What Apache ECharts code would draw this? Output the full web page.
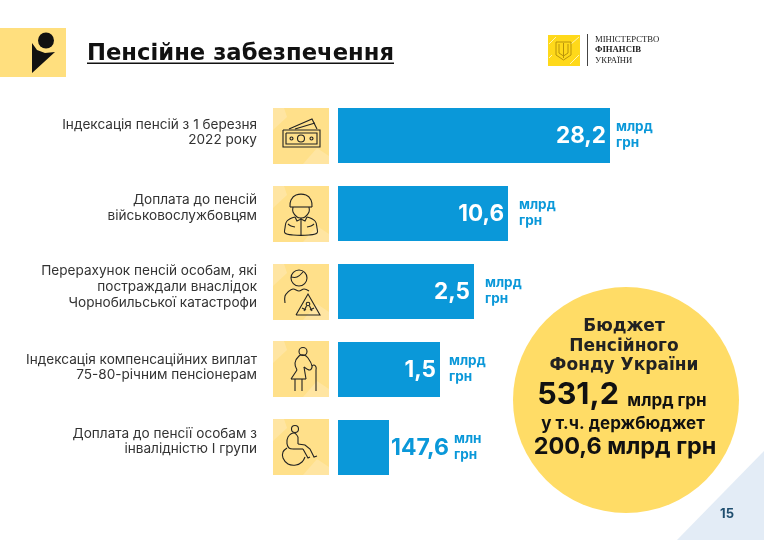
<!DOCTYPE html>
<html><head><meta charset="utf-8">
<style>html,body{margin:0;padding:0;background:#fff}#c{width:764px;height:540px}</style>
<script src="https://cdn.jsdelivr.net/npm/echarts@6/dist/echarts.min.js"></script>
</head><body><div id="c"></div>
<script>
const categories = ['Індексація пенсій з 1 березня\n2022 року','Доплата до пенсій\nвійськовослужбовцям','Перерахунок пенсій особам, які\nпостраждали внаслідок\nЧорнобильської катастрофи','Індексація компенсаційних виплат\n75-80-річним пенсіонерам','Доплата до пенсії особам з\nінвалідністю І групи'];
// The bars in the source are schematic: their lengths are not proportional to the printed amounts.
const barLengths = [16,10,8,6,3];
const amounts = ['28,2','10,6','2,5','1,5','147,6'];
const units = ['млрд\nгрн','млрд\nгрн','млрд\nгрн','млрд\nгрн','млн\nгрн'];
const title = 'Пенсійне забезпечення';
const fundTitle = ['Бюджет','Пенсійного','Фонду України'];
const fundTotal = '531,2';
const fundUnit = 'млрд грн';
const fundSubtitle = 'у т.ч. держбюджет';
const fundState = '200,6 млрд грн';
const pageNumber = '15';

const F = '"DejaVu Sans"';
const F2 = 'Inter';
const BLUE = '#0A98D9', INK = '#222';

// icon primitives: c = circle [cx,cy,r], p = straight polyline, s = smoothed polyline
const icons = [
 {c:[[28,30.5,3.5],[18.5,30.5,1.5],[38.5,30.5,1.5]],
  p:[[[10,22],[47,22],[47,39],[10,39],[10,22]],[[13,25],[44,25],[44,36],[13,36],[13,25]],[[16,21],[39,11],[44,21]],[[22,21],[42,15]]],s:[]},
 {c:[],
  p:[[[17,21],[39,21]],[[28,32],[28,49]],[[22,31],[24,35],[28,33],[32,35],[34,31]]],
  s:[[[17,21],[18,14],[23,9],[33,9],[38,14],[39,21]],[[20,21],[20,26],[24,31],[28,32],[32,31],[36,26],[36,21]],
     [[22,31],[14,35],[12,42],[12,47],[20,49],[36,49],[44,47],[44,42],[42,35],[34,31]],[[15,38],[18,40],[22,41]],[[41,38],[38,40],[34,41]]]},
 {c:[[26,14,8],[35,40,1.8]],
  p:[[[23,51],[47,51],[35,30],[23,51]],[[31,47],[33.5,42]],[[39,47],[36.5,42]],[[29,44],[33,46]],[[41,44],[37,46]]],
  s:[[[18,13],[24,13],[30,8]],[[12,39],[12,32],[15,28],[20,25],[26,27],[31,25],[36,27]]]},
 {c:[[30,10.5,4]],
  p:[[[18,38],[33,38]],[[18,38],[24,29]],[[33,38],[31,26]],[[22,38],[22,50]],[[29,38],[29,50]],[[43,29],[43,50]]],
  s:[[[24,29],[22,22],[26,15],[31,14],[35,17],[39,25],[37,29],[31,26]],[[39,25],[41,24],[43,26],[43,29]]]},
 {c:[[22,10,3.5]],
  p:[[[25,25],[32,26],[37,30],[41,38],[44,37]],[[30,30],[35,39],[37,38]],[[20,30],[30,30]],[[25,18],[25,25]]],
  s:[[[14,25],[15,18],[21,14],[25,18]],[[14,25],[16,29],[20,30]],[[14,29],[10,33],[10,39],[15,45],[23,46],[29,43],[32,38]]]}
];

const tileTops = [108,186,264,341,419];
function iconEls(ic){
  const st = {fill:'none',stroke:INK,lineWidth:1.1};
  return [
    ...ic.c.map(c=>({type:'circle',shape:{cx:c[0],cy:c[1],r:c[2]},style:st})),
    ...ic.p.map(p=>({type:'polyline',shape:{points:p},style:st})),
    ...ic.s.map(p=>({type:'polyline',shape:{points:p,smooth:0.4},style:st}))
  ];
}
function tile(i){
  return {type:'group',x:273,y:tileTops[i],children:[
    {type:'rect',shape:{x:0,y:0,width:56,height:56},style:{fill:'#FFE08A'}},
    {type:'polygon',shape:{points:[[0,0],[11,0],[14,9],[0,22]]},style:{fill:'#FFE5A2'}},
    {type:'polygon',shape:{points:[[56,56],[30,56],[44,40],[56,48]]},style:{fill:'#FFE5A2'}},
    ...iconEls(icons[i])
  ]};
}
function txt(text,x,y,size,weight,fill,align,family){
  return {type:'text',x:x,y:y,style:{text:text,font:(weight||'normal')+' '+size+'px '+(family||F2),fill:fill||INK,textAlign:align||'center',textVerticalAlign:'middle'}};
}
const graphics = [
  {type:'rect',shape:{x:0,y:28,width:66,height:49},style:{fill:'#FFDF7E'}},
  {type:'circle',shape:{cx:46,cy:40.5,r:8},style:{fill:'#111'}},
  {type:'polygon',shape:{points:[[32,43],[37,50],[45,53],[55,52],[32,73]]},style:{fill:'#111'}},
  txt(title,87,54,22.7,'bold','#111','left',F),
  {type:'rect',shape:{x:87,y:62.5,width:307,height:1.5},style:{fill:'#111'}},
  // ministry mark
  {type:'rect',shape:{x:548,y:35,width:32,height:31},style:{fill:'#FFD91A'}},
  {type:'polyline',shape:{points:[[549,44],[556,37]]},style:{stroke:'#FFF4B0',lineWidth:1}},
  {type:'polyline',shape:{points:[[549,58],[552,55]]},style:{stroke:'#FFF4B0',lineWidth:1}},
  {type:'polyline',shape:{points:[[570,64],[579,55]]},style:{stroke:'#FFF4B0',lineWidth:1}},
  {type:'polyline',shape:{points:[[571,44],[579,37]]},style:{stroke:'#FFF4B0',lineWidth:1}},
  {type:'polyline',shape:{points:[[556,42],[571,42],[571,55],[563.5,60],[556,55],[556,42]]},style:{fill:'none',stroke:'#B8930A',lineWidth:1}},
  {type:'polyline',shape:{points:[[563.5,43],[563.5,58]]},style:{stroke:'#B8930A',lineWidth:1}},
  {type:'polyline',shape:{points:[[559,44],[559,53],[563.5,56],[568,53],[568,44]]},style:{fill:'none',stroke:'#B8930A',lineWidth:1}},
  {type:'rect',shape:{x:587,y:34,width:1,height:32},style:{fill:'#444'}},
  txt('МІНІСТЕРСТВО',595,39.5,8.7,'normal','#222','left','"Liberation Serif"'),
  txt('ФІНАНСІВ',595,50,8.7,'bold','#222','left','"Liberation Serif"'),
  txt('УКРАЇНИ',595,60.5,8.7,'normal','#222','left','"Liberation Serif"'),
  ...categories.map((c,i)=>tile(i)),
  // budget circle and corner
  {type:'circle',shape:{cx:626,cy:400,r:113},style:{fill:'#FFDC66'}},
  {type:'polygon',shape:{points:[[677,540],[764,451],[764,540]]},style:{fill:'#E3ECF6'}},
  txt(fundTitle[0],624,327,17,'bold',INK,'center',F),
  txt(fundTitle[1],624,346.5,17,'bold',INK,'center',F),
  txt(fundTitle[2],624,366,17,'bold',INK,'center',F),
  txt(fundTotal,578,395,30.5,'bold','#111'),
  txt(fundUnit,667,401,17,'bold','#111'),
  txt(fundSubtitle,623,424,17,'bold','#111'),
  txt(fundState,625,447,23.4,'bold','#111'),
  txt(pageNumber,727,514,13,'bold','#1F4E6F')
];

const chart = echarts.init(document.getElementById('c'),null,{renderer:'canvas'});
const unitGap = [6,11,11,9,65];
const labelLift = [6,11,9,4,12];
const spacerStyles = {};
labelLift.forEach((h,i)=>{spacerStyles['sp'+i]={height:h,lineHeight:h,fontSize:1};});
chart.setOption({
  animation:false,
  backgroundColor:'#fff',
  grid:{left:338,top:96.5,width:272,height:390,containLabel:false},
  xAxis:{type:'value',min:0,max:16,show:false},
  yAxis:{type:'category',inverse:true,data:categories,
    axisLine:{show:false},axisTick:{show:false},
    axisLabel:{margin:81,align:'right',color:'#333',fontFamily:F2,fontSize:13.6,lineHeight:15.7,
      rich:spacerStyles,
      formatter:(v,i)=>v+'\n{sp'+i+'| }'}},
  series:[
   {type:'bar',barWidth:55,itemStyle:{color:BLUE},z:2,
    data:barLengths.map((v,i)=>({value:v,label:i===4?{position:'right',distance:2,offset:[0,1],color:BLUE,fontSize:23}:{}})),
    label:{show:true,position:'insideRight',distance:4,offset:[0,1],color:'#fff',fontFamily:F2,fontWeight:'bold',fontSize:22.5,
      formatter:p=>amounts[p.dataIndex]}},
   {type:'bar',barWidth:55,barGap:'-100%',itemStyle:{color:'transparent'},z:3,
    data:barLengths.map((v,i)=>({value:v,label:{offset:[unitGap[i]-5,-0.5]}})),
    label:{show:true,position:'right',align:'left',color:BLUE,fontFamily:F2,fontWeight:'bold',fontSize:13.5,lineHeight:15.5,
      formatter:p=>units[p.dataIndex]}}
  ],
  graphic:{elements:graphics}
});
</script></body></html>
